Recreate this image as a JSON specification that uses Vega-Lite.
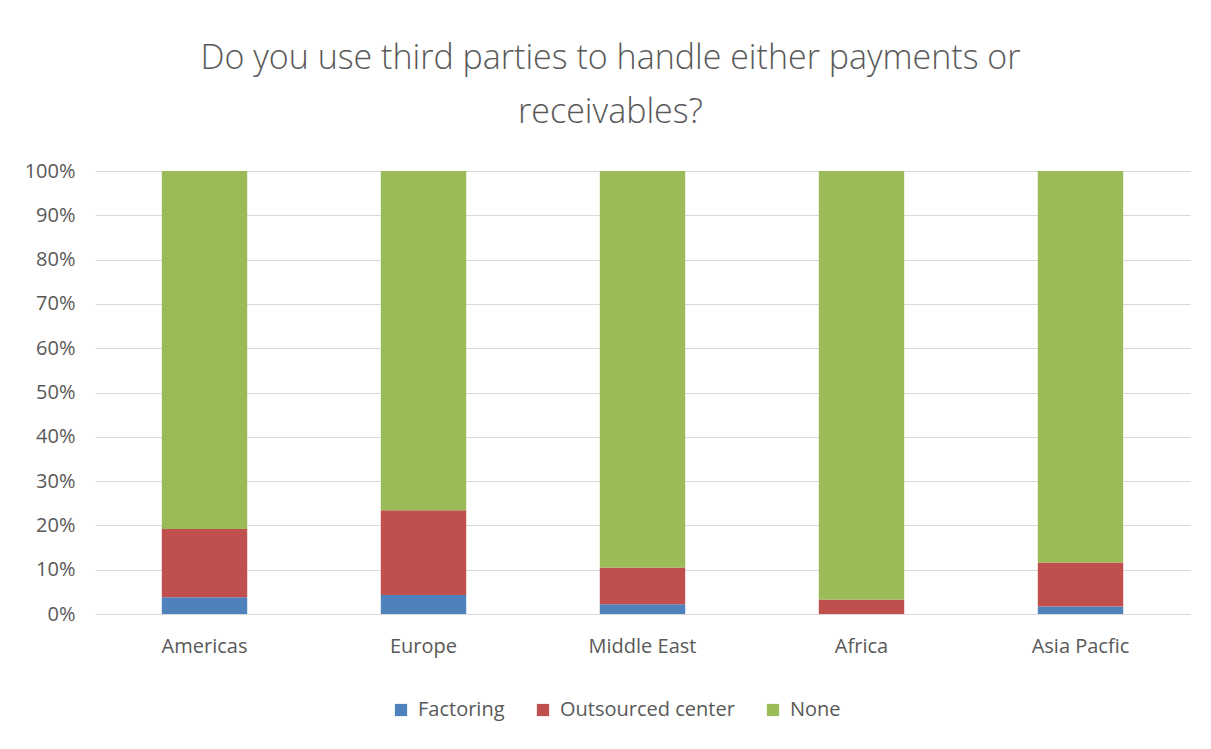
{
  "$schema": "https://vega.github.io/schema/vega-lite/v6.json",
  "width": 1095,
  "height": 443,
  "autosize": {"type": "none"},
  "padding": {"left": 95, "top": 171, "right": 21, "bottom": 135},
  "background": "white",
  "title": {
    "text": ["Do you use third parties to handle either payments or", "receivables?"],
    "font": "Open Sans",
    "fontSize": 34,
    "fontWeight": 300,
    "color": "#595959",
    "anchor": "middle",
    "dx": -32,
    "lineHeight": 54,
    "offset": 31
  },
  "data": {
    "values": [
      {"region": "Americas", "type": "Factoring", "k": 1, "value": 0.038},
      {"region": "Americas", "type": "Outsourced center", "k": 2, "value": 0.154},
      {"region": "Americas", "type": "None", "k": 3, "value": 0.808},
      {"region": "Europe", "type": "Factoring", "k": 1, "value": 0.043},
      {"region": "Europe", "type": "Outsourced center", "k": 2, "value": 0.191},
      {"region": "Europe", "type": "None", "k": 3, "value": 0.766},
      {"region": "Middle East", "type": "Factoring", "k": 1, "value": 0.022},
      {"region": "Middle East", "type": "Outsourced center", "k": 2, "value": 0.083},
      {"region": "Middle East", "type": "None", "k": 3, "value": 0.895},
      {"region": "Africa", "type": "Factoring", "k": 1, "value": 0.0},
      {"region": "Africa", "type": "Outsourced center", "k": 2, "value": 0.033},
      {"region": "Africa", "type": "None", "k": 3, "value": 0.967},
      {"region": "Asia Pacfic", "type": "Factoring", "k": 1, "value": 0.017},
      {"region": "Asia Pacfic", "type": "Outsourced center", "k": 2, "value": 0.099},
      {"region": "Asia Pacfic", "type": "None", "k": 3, "value": 0.884}
    ]
  },
  "mark": {"type": "bar"},
  "encoding": {
    "x": {
      "field": "region",
      "type": "nominal",
      "sort": ["Americas", "Europe", "Middle East", "Africa", "Asia Pacfic"],
      "scale": {"paddingInner": 0.61, "paddingOuter": 0.305},
      "axis": {
        "title": null,
        "labelAngle": 0,
        "ticks": false,
        "domain": true,
        "domainColor": "#d9d9d9",
        "labelFont": "Open Sans",
        "labelFontWeight": "normal",
        "labelFontSize": 20,
        "labelColor": "#595959",
        "labelPadding": 22
      }
    },
    "y": {
      "field": "value",
      "type": "quantitative",
      "stack": "zero",
      "scale": {"domain": [0, 1], "nice": false},
      "axis": {
        "title": null,
        "format": "%",
        "values": [0, 0.1, 0.2, 0.3, 0.4, 0.5, 0.6, 0.7, 0.8, 0.9, 1],
        "labelOverlap": false,
        "ticks": false,
        "domain": false,
        "gridColor": "#d9d9d9",
        "labelFont": "Open Sans",
        "labelFontWeight": "normal",
        "labelFontSize": 20,
        "labelColor": "#595959",
        "labelPadding": 20
      }
    },
    "color": {
      "field": "type",
      "type": "nominal",
      "scale": {
        "domain": ["Factoring", "Outsourced center", "None"],
        "range": ["#4f81bd", "#c0504d", "#9bbb59"]
      },
      "legend": {
        "title": null,
        "orient": "none",
        "legendX": 296,
        "legendY": 529,
        "direction": "horizontal",
        "symbolType": "square",
        "symbolSize": 150,
        "symbolStrokeWidth": 0,
        "labelFont": "Open Sans",
        "labelFontWeight": "normal",
        "labelFontSize": 20,
        "labelColor": "#595959",
        "labelLimit": 400,
        "labelOffset": 7,
        "columnPadding": 28
      }
    },
    "order": {"field": "k", "type": "quantitative"}
  },
  "config": {"view": {"stroke": null}}
}
